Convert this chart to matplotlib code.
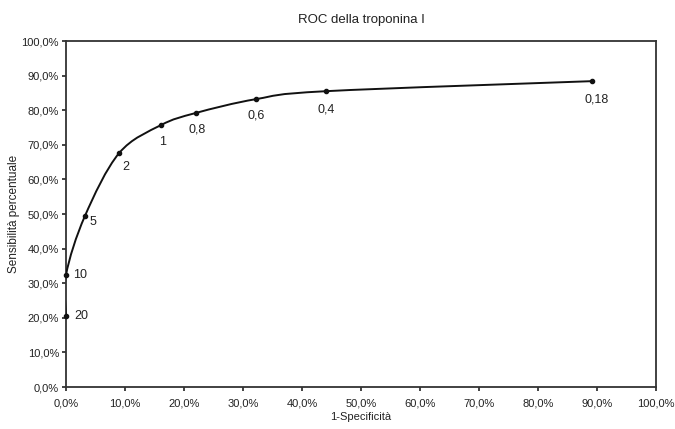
import numpy as np
import matplotlib
matplotlib.use("Agg")
import matplotlib.pyplot as plt
from matplotlib.path import Path
from matplotlib.patches import PathPatch
from matplotlib.ticker import FuncFormatter

plt.rcParams['font.family'] = ['Liberation Sans', 'DejaVu Sans']

# ROC points (1-specificity, sensitivity) in %, with cut-off labels
fpr = [0.0, 0.0, 3.2, 9.0, 16.1, 22.0, 32.2, 44.1, 89.2]
tpr = [20.5, 32.4, 49.4, 67.6, 75.7, 79.2, 83.2, 85.5, 88.4]
cutoffs = ["20", "10", "5", "2", "1", "0,8", "0,6", "0,4", "0,18"]

# label offsets in points (dx, dy) and alignment
label_off = [(6, 0, 'left'), (5, 0, 'left'), (3, -4, 'left'), (5, -10, 'center'),
             (1, -12, 'center'), (1, -12, 'center'), (0, -12, 'center'),
             (0, -13, 'center'), (3, -13, 'center')]


def smooth_path(xs, ys, t=1 / 6):
    # Bezier segments like a spreadsheet "smoothed line"
    pts = np.column_stack([xs, ys])
    verts = [pts[0]]
    codes = [Path.MOVETO]
    n = len(pts)
    for i in range(n - 1):
        p0 = pts[i - 1] if i > 0 else pts[i]
        p1 = pts[i]
        p2 = pts[i + 1]
        p3 = pts[i + 2] if i + 2 < n else pts[i + 1]
        c1 = p1 + (p2 - p0) * t
        c2 = p2 - (p3 - p1) * t
        verts += [c1, c2, p2]
        codes += [Path.CURVE4] * 3
    return Path(verts, codes)


fig = plt.figure(figsize=(6.75, 4.29), dpi=100)
ax = fig.add_axes([0.0978, 0.0979, 0.8741, 0.8065])

ax.add_patch(PathPatch(smooth_path(fpr, tpr), facecolor='none',
                       edgecolor='#111111', lw=1.4, zorder=3))
ax.plot(fpr, tpr, 'o', color='#111111', ms=3, zorder=4, clip_on=False)

for x, y, lab, (dx, dy, ha) in zip(fpr, tpr, cutoffs, label_off):
    ax.annotate(lab, (x, y), xytext=(dx, dy), textcoords='offset points',
                ha=ha, va='center', fontsize=9, color='#222222')

ax.set_xlim(0, 100)
ax.set_ylim(0, 100)
ax.set_xticks(np.arange(0, 101, 10))
ax.set_yticks(np.arange(0, 101, 10))
fmt = FuncFormatter(lambda v, p: f"{v:.1f}%".replace('.', ','))
ax.xaxis.set_major_formatter(fmt)
ax.yaxis.set_major_formatter(fmt)
ax.tick_params(direction='out', length=3, width=1.2, labelsize=8,
               colors='#222222')
ax.tick_params(axis='x', pad=5)
ax.tick_params(axis='y', pad=2)

for s in ax.spines.values():
    s.set_linewidth(1.3)
    s.set_color('#333333')

ax.set_xlabel("1-Specificità", fontsize=8, labelpad=3, color='#222222')
ax.set_ylabel("Sensibilità percentuale", fontsize=8.5, labelpad=1, color='#222222')
ax.set_title("ROC della troponina I", fontsize=9.5, pad=13, color='#222222')

fig.savefig("out.png", dpi=100)
